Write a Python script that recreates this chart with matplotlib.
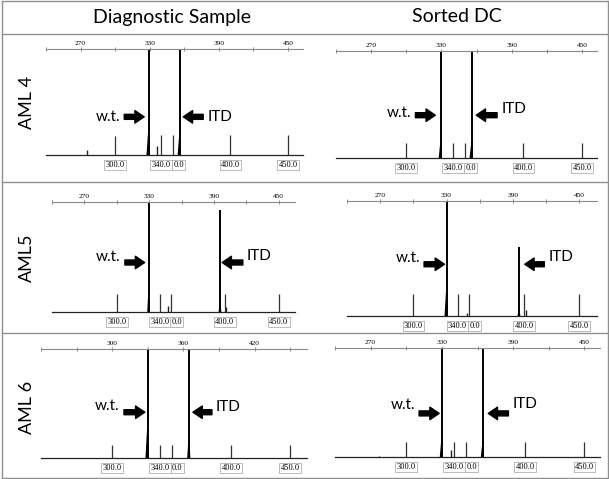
import numpy as np
import matplotlib
matplotlib.use("Agg")
import matplotlib.pyplot as plt
from matplotlib.lines import Line2D

W, H = 609, 479

col_titles = ["Diagnostic Sample", "Sorted DC"]
row_titles = ["AML 4", "AML5", "AML 6"]

# size standard peaks (bp) and their boxed labels
# (the 350.0 box sits under the 340.0 box, so only "0.0" shows)
size_std = [300, 340, 350, 400, 450]
size_labels = ["300.0", "340.0", "0.0", "400.0", "450.0"]

# heights are relative to the top axis line (values > 1 run off the top)
aml4_dx_std = [0.18, 0.19, 0.19, 0.19, 0.19]
aml4_dx_peaks = [329.0, 356.0]          # w.t., ITD
aml4_dx_heights = [1.5, 1.5]
aml4_dx_shoulders = [0.24, 0.21]
aml4_dx_minor_pos = [275.6, 336.0]
aml4_dx_minor_h = [0.05, 0.085]

aml4_dc_std = [0.14, 0.14, 0.14, 0.14, 0.14]
aml4_dc_peaks = [329.5, 355.8]
aml4_dc_heights = [1.5, 1.5]
aml4_dc_shoulders = [0.17, 0.15]
aml4_dc_minor_pos = []
aml4_dc_minor_h = []

aml5_dx_std = [0.16, 0.16, 0.16, 0.16, 0.16]
aml5_dx_peaks = [330.0, 396.0]
aml5_dx_heights = [1.5, 0.93]
aml5_dx_shoulders = [0.31, 0.12]
aml5_dx_minor_pos = [347.5, 401.5]
aml5_dx_minor_h = [0.055, 0.05]

aml5_dc_std = [0.19, 0.19, 0.19, 0.19, 0.19]
aml5_dc_peaks = [330.0, 396.0]
aml5_dc_heights = [1.5, 0.6]
aml5_dc_shoulders = [0.24, 0.087]
aml5_dc_minor_pos = [348.5, 402.0]
aml5_dc_minor_h = [0.025, 0.05]

aml6_dx_std = [0.12, 0.12, 0.12, 0.12, 0.12]
aml6_dx_peaks = [329.8, 365.0]
aml6_dx_heights = [1.5, 1.5]
aml6_dx_shoulders = [0.30, 0.28]
aml6_dx_minor_pos = []
aml6_dx_minor_h = []

aml6_dc_std = [0.14, 0.14, 0.14, 0.14, 0.14]
aml6_dc_peaks = [330.0, 364.6]
aml6_dc_heights = [1.5, 1.5]
aml6_dc_shoulders = [0.19, 0.17]
aml6_dc_minor_pos = [277.0, 338.0]
aml6_dc_minor_h = [0.012, 0.06]

top_labels_a = [270, 330, 390, 450]
top_labels_b = [300, 360, 420]

# panel layout in pixels: left, top-axis y, right, baseline y, x limits (bp)
panels = [
    dict(box=(46, 49, 303, 155), xlim=(260.6, 463.0), top=top_labels_a,
         data=(aml4_dx_std, aml4_dx_peaks, aml4_dx_heights, aml4_dx_shoulders, aml4_dx_minor_pos, aml4_dx_minor_h),
         arrows=(307.9, 325.2, 376.4, 359.1, 0.36, 0.36, 0.36)),
    dict(box=(336, 51, 597, 158), xlim=(260.5, 462.8), top=top_labels_a,
         data=(aml4_dc_std, aml4_dc_peaks, aml4_dc_heights, aml4_dc_shoulders, aml4_dc_minor_pos, aml4_dc_minor_h),
         arrows=(307.8, 324.8, 377.5, 359.7, 0.40, 0.42, 0.46)),
    dict(box=(52, 202, 295, 312), xlim=(262.5, 465.0), top=top_labels_a,
         data=(aml5_dx_std, aml5_dx_peaks, aml5_dx_heights, aml5_dx_shoulders, aml5_dx_minor_pos, aml5_dx_minor_h),
         arrows=(307.5, 325.8, 416.7, 397.5, 0.45, 0.50, 0.51)),
    dict(box=(347, 201, 597, 316), xlim=(264.5, 466.1), top=top_labels_a,
         data=(aml5_dc_std, aml5_dc_peaks, aml5_dc_heights, aml5_dc_shoulders, aml5_dc_minor_pos, aml5_dc_minor_h),
         arrows=(309.7, 328.2, 418.5, 400.8, 0.45, 0.50, 0.51)),
    dict(box=(41, 349, 307, 458), xlim=(261.1, 464.1), top=top_labels_b,
         data=(aml6_dx_std, aml6_dx_peaks, aml6_dx_heights, aml6_dx_shoulders, aml6_dx_minor_pos, aml6_dx_minor_h),
         arrows=(309.9, 327.5, 384.0, 368.0, 0.42, 0.48, 0.47)),
    dict(box=(335, 348, 600, 457), xlim=(259.2, 463.1), top=top_labels_a,
         data=(aml6_dc_std, aml6_dc_peaks, aml6_dc_heights, aml6_dc_shoulders, aml6_dc_minor_pos, aml6_dc_minor_h),
         arrows=(310.8, 327.7, 386.0, 369.0, 0.40, 0.48, 0.49)),
]

label_font = "Lato"
grid_color = "#8f8f8f"

fig = plt.figure(figsize=(W / 100, H / 100), dpi=100)


def fx(px):
    return px / W


def fy(py):
    return 1 - py / H


def hline(y, x0=1.5, x1=607.5):
    fig.add_artist(Line2D([fx(x0), fx(x1)], [fy(y), fy(y)], color=grid_color, lw=1.0))


def vline(x, y0=0.5, y1=477.5):
    fig.add_artist(Line2D([fx(x), fx(x)], [fy(y0), fy(y1)], color=grid_color, lw=1.0))


# table frame
for y in [0.5, 34, 182, 333, 477.5]:
    hline(y)
for x in [1.5, 607.5]:
    vline(x)

fig.text(fx(172), fy(17), col_titles[0], ha="center", va="center", fontsize=14, family=label_font)
fig.text(fx(457), fy(17), col_titles[1], ha="center", va="center", fontsize=14, family=label_font)
for name, yc in zip(row_titles, [102, 258, 407]):
    fig.text(fx(27), fy(yc), name, ha="center", va="center", rotation=90, fontsize=13, family=label_font)

for p in panels:
    left, top, right, base = p["box"]
    ax = fig.add_axes([fx(left), fy(base), (right - left) / W, (base - top) / H])
    ax.set_facecolor("none")
    ax.set_xlim(*p["xlim"])
    ax.set_ylim(0, 1)
    std_h, peaks, heights, shoulders, minor_pos, minor_h = p["data"]

    ax.vlines(size_std, 0, std_h, color="#333333", lw=0.9)
    if minor_pos:
        ax.vlines(minor_pos, 0, minor_h, color="#222222", lw=1.0)
    ax.vlines(peaks, 0, heights, color="black", lw=1.4)
    for pk, sh in zip(peaks, shoulders):
        ax.fill([pk - 1.8, pk - 0.3, pk + 0.8], [0, sh, 0], color="black", lw=0)

    # top axis in bp
    ticks = np.arange(240, 480, 30)
    ax.xaxis.tick_top()
    ax.set_xticks(ticks)
    ax.set_xticklabels([str(t) if t in p["top"] else "" for t in ticks],
                       fontsize=5.3, family="Liberation Serif")
    ax.tick_params(axis="x", direction="inout", length=3, width=0.6, color="#777777", pad=1)
    ax.set_yticks([])
    for side in ["left", "right"]:
        ax.spines[side].set_visible(False)
    ax.spines["top"].set_color("#8a8a8a")
    ax.spines["top"].set_linewidth(0.8)
    ax.spines["bottom"].set_color("#222222")
    ax.spines["bottom"].set_linewidth(0.9)

    # boxed size standard labels under the baseline
    for pos, lab in zip(size_std, size_labels):
        dx = 4.2 if lab == "0.0" else 0
        ax.annotate(lab, (pos, 0), xytext=(dx, -7.3), textcoords="offset points",
                    ha="center", va="center", fontsize=6, family="Liberation Serif",
                    bbox=dict(boxstyle="square,pad=0.15", fc="white", ec="#b0b0b0", lw=0.6),
                    annotation_clip=False)

    wt_tail, wt_head, itd_tail, itd_head, ay, wt_ty, itd_ty = p["arrows"]
    style = "simple,head_length=0.67,head_width=0.9,tail_width=0.36"
    for tail, head in [(wt_tail, wt_head), (itd_tail, itd_head)]:
        ax.annotate("", xy=(head, ay), xytext=(tail, ay),
                    arrowprops=dict(arrowstyle=style, fc="black", ec="black",
                                    shrinkA=0, shrinkB=0, mutation_scale=10))
    ax.annotate("w.t.", (wt_tail, wt_ty), xytext=(-3, 0), textcoords="offset points",
                ha="right", va="center", fontsize=11, family=label_font)
    ax.annotate("ITD", (itd_tail, itd_ty), xytext=(3, 0), textcoords="offset points",
                ha="left", va="center", fontsize=11, family=label_font)

fig.savefig("out.png", dpi=100)
